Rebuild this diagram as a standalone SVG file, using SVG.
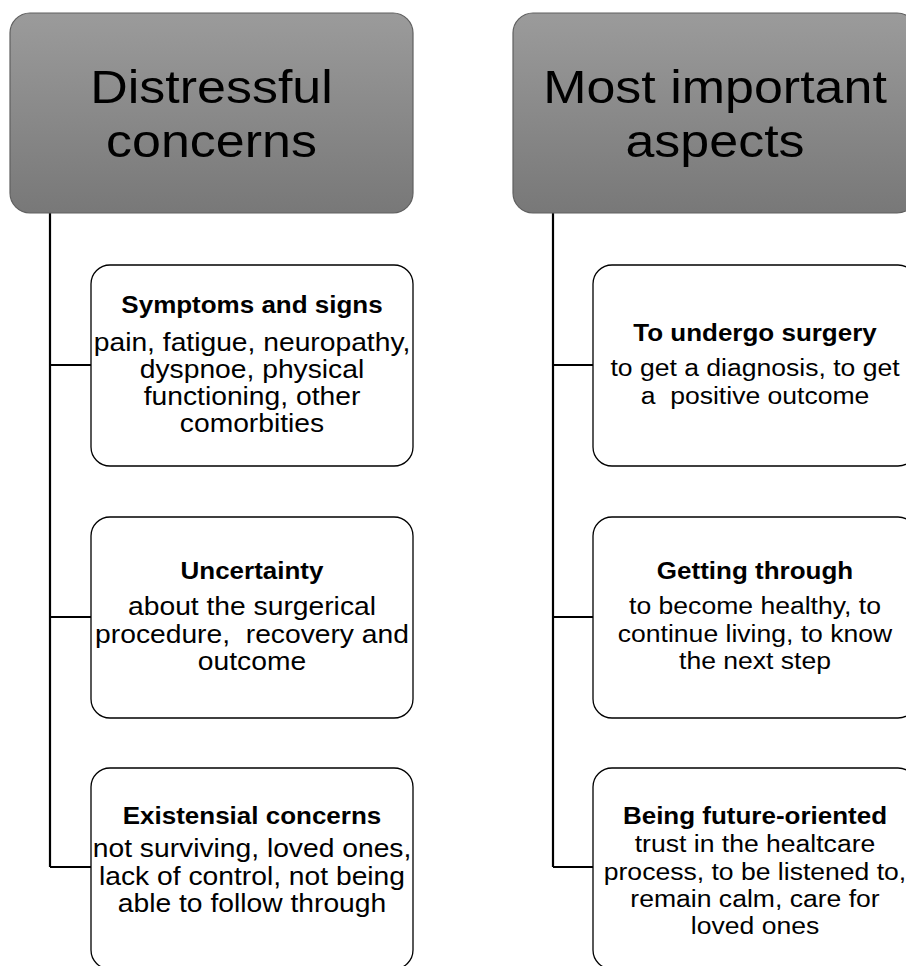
<svg xmlns="http://www.w3.org/2000/svg" width="906" height="966" viewBox="0 0 906 966">
<defs>
<linearGradient id="hg" x1="0" y1="0" x2="0" y2="1">
<stop offset="0" stop-color="#9b9b9b"/>
<stop offset="1" stop-color="#787878"/>
</linearGradient>
</defs>
<style>
.hdr{fill:url(#hg);stroke:#606060;stroke-width:1.2}
.box{fill:#fff;stroke:#000;stroke-width:1.3}
.conn{stroke:#000;stroke-width:2.2;fill:none}
text{font-family:"Liberation Sans",Arial,sans-serif;text-anchor:middle;fill:#000}
.ht{font-size:46px}
.tt{font-size:23px;font-weight:bold}
.bt{font-size:25px}
.br{font-size:23.5px}
</style>
<rect width="906" height="966" fill="#fff"/>
<g id="connectors">
<path class="conn" d="M50,213 V867 M50,365 H91 M50,617 H91 M50,867 H91"/>
<path class="conn" d="M553,213 V867 M553,365 H593 M553,617 H593 M553,867 H593"/>
</g>
<g id="header-left">
<rect class="hdr" x="10" y="13" width="403" height="200" rx="20"/>
<text class="ht" transform="translate(211.5,0) scale(1.13,1)"><tspan x="0" y="103">Distressful</tspan><tspan x="0" y="157">concerns</tspan></text>
</g>
<g id="header-right">
<rect class="hdr" x="513" y="13" width="404" height="200" rx="20"/>
<text class="ht" transform="translate(715,0) scale(1.13,1)"><tspan x="0" y="103">Most important</tspan><tspan x="0" y="157">aspects</tspan></text>
</g>
<g id="symptoms">
<rect class="box" x="91" y="265" width="322" height="201" rx="19"/>
<text transform="translate(252,0) scale(1.13,1)"><tspan class="tt" x="0" y="313">Symptoms and signs</tspan><tspan class="bt" x="0" y="351">pain, fatigue, neuropathy,</tspan><tspan class="bt" x="0" y="378">dyspnoe, physical</tspan><tspan class="bt" x="0" y="405">functioning, other</tspan><tspan class="bt" x="0" y="432">comorbities</tspan></text>
</g>
<g id="uncertainty">
<rect class="box" x="91" y="517" width="322" height="201" rx="19"/>
<text transform="translate(252,0) scale(1.13,1)"><tspan class="tt" x="0" y="579">Uncertainty</tspan><tspan class="bt" x="0" y="615">about the surgerical</tspan><tspan class="bt" x="0" y="643" xml:space="preserve">procedure,  recovery and</tspan><tspan class="bt" x="0" y="670">outcome</tspan></text>
</g>
<g id="existensial">
<rect class="box" x="91" y="768" width="322" height="201" rx="19"/>
<text transform="translate(252,0) scale(1.13,1)"><tspan class="tt" x="0" y="824">Existensial concerns</tspan><tspan class="bt" x="0" y="857">not surviving, loved ones,</tspan><tspan class="bt" x="0" y="885">lack of control, not being</tspan><tspan class="bt" x="0" y="912">able to follow through</tspan></text>
</g>
<g id="surgery">
<rect class="box" x="593" y="265" width="324" height="201" rx="19"/>
<text transform="translate(755,0) scale(1.13,1)"><tspan class="tt" x="0" y="341">To undergo surgery</tspan><tspan class="br" x="0" y="376">to get a diagnosis, to get</tspan><tspan class="br" x="0" y="404" xml:space="preserve">a  positive outcome</tspan></text>
</g>
<g id="getting-through">
<rect class="box" x="593" y="517" width="324" height="201" rx="19"/>
<text transform="translate(755,0) scale(1.13,1)"><tspan class="tt" x="0" y="579">Getting through</tspan><tspan class="br" x="0" y="614">to become healthy, to</tspan><tspan class="br" x="0" y="642">continue living, to know</tspan><tspan class="br" x="0" y="669">the next step</tspan></text>
</g>
<g id="future-oriented">
<rect class="box" x="593" y="768" width="324" height="201" rx="19"/>
<text transform="translate(755,0) scale(1.13,1)"><tspan class="tt" x="0" y="824">Being future-oriented</tspan><tspan class="br" x="0" y="852">trust in the healtcare</tspan><tspan class="br" x="0" y="880">process, to be listened to,</tspan><tspan class="br" x="0" y="907">remain calm, care for</tspan><tspan class="br" x="0" y="934">loved ones</tspan></text>
</g>
</svg>
